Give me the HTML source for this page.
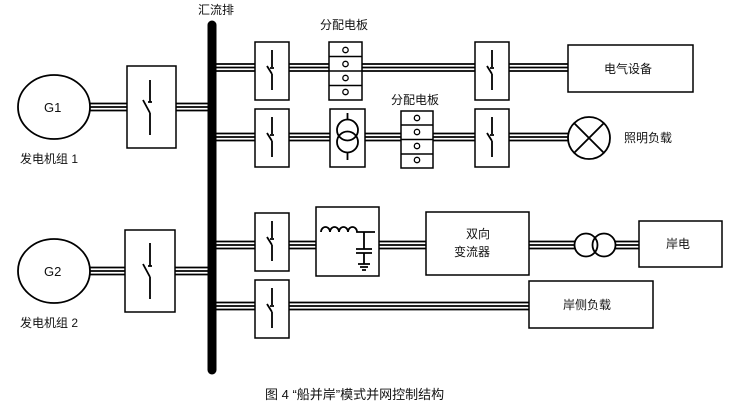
<!DOCTYPE html>
<html><head><meta charset="utf-8"><style>
html,body{margin:0;padding:0;background:#fff;}
svg{display:block;}
text{font-family:"Liberation Sans","Noto Sans CJK SC",sans-serif;fill:#111;}
</style></head><body>
<svg width="740" height="412" viewBox="0 0 740 412" xmlns="http://www.w3.org/2000/svg">
<g stroke="#000" stroke-width="1.8" fill="none">
<path d="M90 103.5H127M90 107H127M90 110.5H127 M176 103.5H210M176 107H210M176 110.5H210"/>
<path d="M90 267.5H125M90 271H125M90 274.5H125 M175 267.5H210M175 271H210M175 274.5H210"/>
<path d="M216 64H255M216 67.5H255M216 71H255 M289 64H329M289 67.5H329M289 71H329 M362 64H475M362 67.5H475M362 71H475 M509 64H568M509 67.5H568M509 71H568"/>
<path d="M216 133.5H255M216 137H255M216 140.5H255 M289 133.5H330M289 137H330M289 140.5H330 M365 133.5H401M365 137H401M365 140.5H401 M433 133.5H475M433 137H475M433 140.5H475 M509 133.5H568M509 137H568M509 140.5H568"/>
<path d="M216 241.5H255M216 245H255M216 248.5H255 M289 241.5H316M289 245H316M289 248.5H316 M379 241.5H426M379 245H426M379 248.5H426 M529 241.5H575M529 245H575M529 248.5H575 M615 241.5H639M615 245H639M615 248.5H639"/>
<path d="M216 302.5H255M216 306H255M216 309.5H255 M289 302.5H529M289 306H529M289 309.5H529"/>
<ellipse cx="54" cy="107" rx="36" ry="32" fill="#fff"/>
<ellipse cx="54" cy="271" rx="36" ry="32" fill="#fff"/>
<rect x="127" y="66" width="49" height="82" fill="#fff" stroke-width="1.5"/>
<path d="M150 80V102M143 100L150 113M150 113V135M148 102h4"/>
<rect x="125" y="230" width="50" height="82" fill="#fff" stroke-width="1.5"/>
<path d="M150 243V266M143 264L150 277M150 277V299M148 266h4"/>
<g stroke-width="1.5">
<rect x="255" y="42" width="34" height="58" fill="#fff"/>
<rect x="475" y="42" width="34" height="58" fill="#fff"/>
<rect x="255" y="109" width="34" height="58" fill="#fff"/>
<rect x="475" y="109" width="34" height="58" fill="#fff"/>
<rect x="255" y="213" width="34" height="58" fill="#fff"/>
<rect x="255" y="280" width="34" height="58" fill="#fff"/>
</g>
<path d="M272 50V67M267 66L272 74M272 74V90M270 68h4"/>
<path d="M492 50V67M487 66L492 74M492 74V90M490 68h4"/>
<path d="M272 117V134M267 133L272 141M272 141V157M270 135h4"/>
<path d="M492 117V134M487 133L492 141M492 141V157M490 135h4"/>
<path d="M272 221V238M267 237L272 245M272 245V261M270 239h4"/>
<path d="M272 288V305M267 304L272 312M272 312V328M270 306h4"/>
<g stroke-width="1.5">
<rect x="329" y="42" width="33" height="58" fill="#fff"/>
<path d="M329 56.5H362M329 71H362M329 85.5H362"/>
<rect x="401" y="111" width="32" height="57" fill="#fff"/>
<path d="M401 125H433M401 139.5H433M401 154H433"/>
</g>
<g stroke-width="1.3">
<circle cx="345.5" cy="50" r="2.7"/><circle cx="345.5" cy="64" r="2.7"/><circle cx="345.5" cy="78" r="2.7"/><circle cx="345.5" cy="92" r="2.7"/>
<circle cx="417" cy="118" r="2.7"/><circle cx="417" cy="132" r="2.7"/><circle cx="417" cy="146" r="2.7"/><circle cx="417" cy="160" r="2.7"/>
</g>
<rect x="330" y="109" width="35" height="58" fill="#fff" stroke-width="1.5"/>
<circle cx="347.5" cy="130" r="10.5"/><circle cx="347.5" cy="142" r="10.5"/>
<path d="M347.5 113V119.5M347.5 152.5V160"/>
<rect x="316" y="207" width="63" height="69" fill="#fff" stroke-width="1.5"/>
<path d="M321 232a4.5 5 0 0 1 9 0a4.5 5 0 0 1 9 0a4.5 5 0 0 1 9 0a4.5 5 0 0 1 9 0H375M364 232V249M356 249H372M356 253H372M364 253V264M358 264H370M360 267H368M362 270H366"/>
<rect x="426" y="212" width="103" height="63" fill="#fff" stroke-width="1.5"/>
<circle cx="586" cy="245" r="11.5" fill="#fff"/><circle cx="604" cy="245" r="11.5" fill="none"/>
<rect x="568" y="45" width="125" height="47" fill="#fff" stroke-width="1.5"/>
<rect x="639" y="221" width="83" height="46" fill="#fff" stroke-width="1.5"/>
<rect x="529" y="281" width="124" height="47" fill="#fff" stroke-width="1.5"/>
<circle cx="589" cy="138" r="21" fill="#fff"/>
<path d="M574 123L604 153M604 123L574 153"/>
</g>
<line x1="212" y1="25" x2="212" y2="370" stroke="#000" stroke-width="9" stroke-linecap="round"/>
<g font-size="12">
<text x="198" y="14">汇流排</text>
<text x="320" y="29">分配电板</text>
<text x="391" y="104">分配电板</text>
<text x="44" y="112" font-size="13">G1</text>
<text x="44" y="276" font-size="13">G2</text>
<text x="20" y="163">发电机组 1</text>
<text x="20" y="327">发电机组 2</text>
<text x="604" y="73">电气设备</text>
<text x="624" y="142">照明负载</text>
<text x="466" y="238">双向</text>
<text x="454" y="256">变流器</text>
<text x="666" y="248">岸电</text>
<text x="563" y="309">岸侧负载</text>
<text x="265" y="399" font-size="13">图 4  “船并岸”模式并网控制结构</text>
</g>
</svg>
</body></html>
